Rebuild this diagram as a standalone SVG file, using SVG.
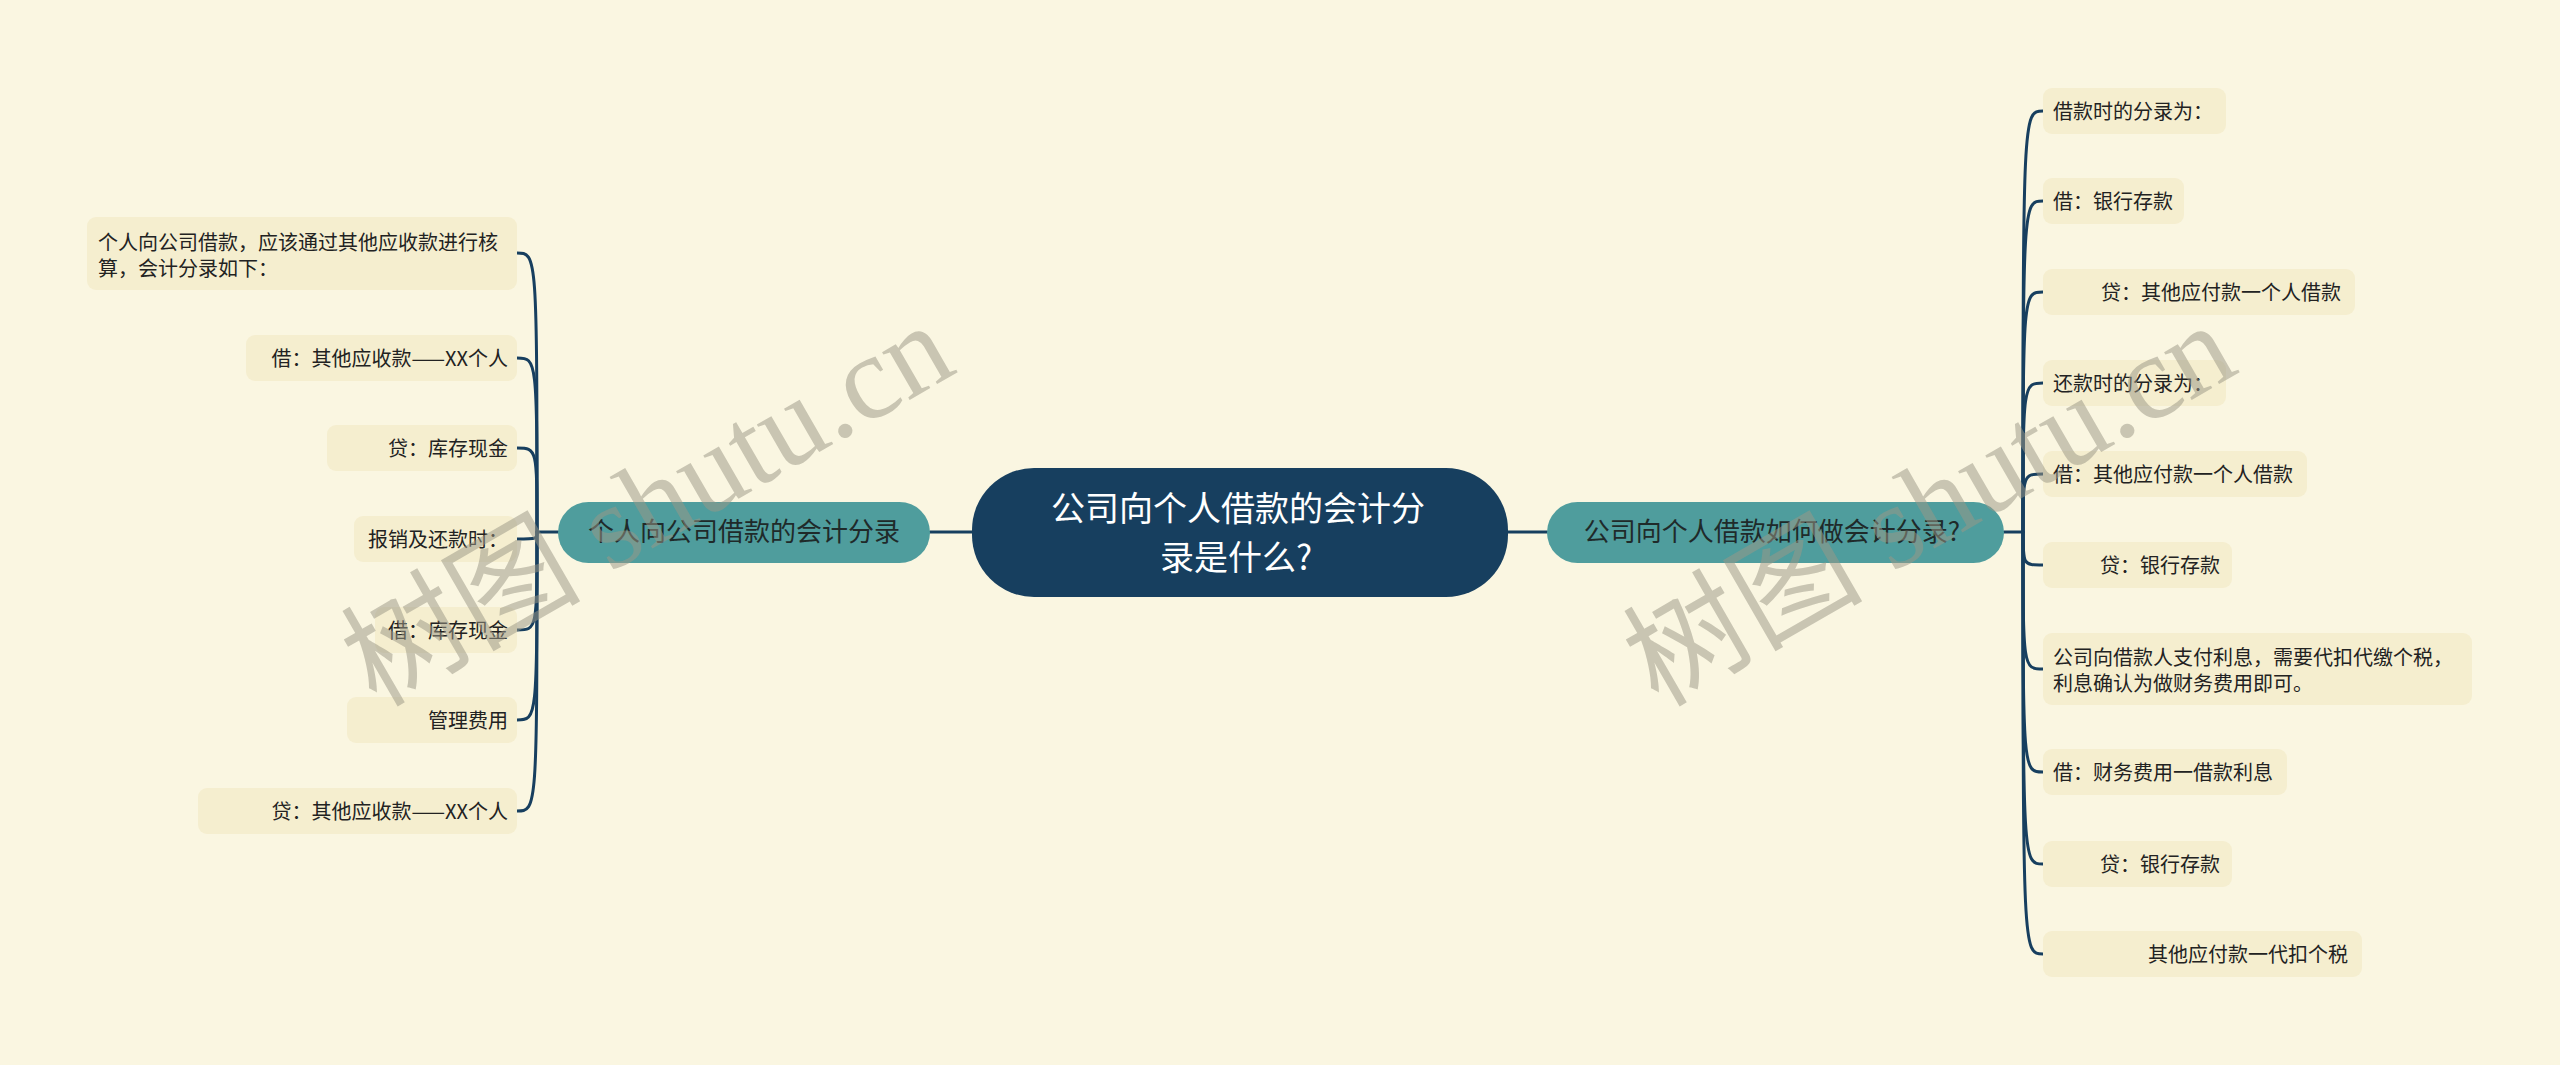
<svg xmlns="http://www.w3.org/2000/svg" width="2560" height="1065" viewBox="0 0 2560 1065">
<style>
.bg{fill:#faf6e1}
.leaf{fill:#f5eecf}
.lt{font-family:"Noto Sans CJK SC","Noto Sans",sans-serif;font-size:20px;fill:#222}
.l1{fill:#4f9d9d}
.l1t{font-family:"Noto Sans CJK SC","Noto Sans",sans-serif;font-size:26px;fill:#1f2a2a;text-anchor:middle}
.root{fill:#173f5f}
.rt{font-family:"Noto Sans CJK SC","Noto Sans",sans-serif;font-size:34px;fill:#ffffff;text-anchor:middle}
.end{text-anchor:end}
.con{fill:none;stroke:#173f5f;stroke-width:3;stroke-linecap:round}
.wm{font-family:"Liberation Serif","Noto Sans CJK SC",serif;font-size:120px;fill:#9c9886;fill-opacity:0.52}
</style>
<rect class="bg" x="0" y="0" width="2560" height="1065"/>

<g id="connectors">
<path class="con" d="M930,532 L972,532"/>
<path class="con" d="M1508,532 L1547,532"/>
<path class="con" d="M537,532 L558,532"/>
<path class="con" d="M2004,532 L2023,532"/>
<path class="con" d="M537,532 C537,253 537,253 517,253"/>
<path class="con" d="M537,532 C537,358 537,358 517,358"/>
<path class="con" d="M537,532 C537,448 537,448 517,448"/>
<path class="con" d="M537,532 C537,539 537,539 517,539"/>
<path class="con" d="M537,532 C537,630 537,630 517,630"/>
<path class="con" d="M537,532 C537,720 537,720 517,720"/>
<path class="con" d="M537,532 C537,811 537,811 517,811"/>
<path class="con" d="M2023,532 C2023,111 2023,111 2043,111"/>
<path class="con" d="M2023,532 C2023,201 2023,201 2043,201"/>
<path class="con" d="M2023,532 C2023,292 2023,292 2043,292"/>
<path class="con" d="M2023,532 C2023,383 2023,383 2043,383"/>
<path class="con" d="M2023,532 C2023,474 2023,474 2043,474"/>
<path class="con" d="M2023,532 C2023,565 2023,565 2043,565"/>
<path class="con" d="M2023,532 C2023,669 2023,669 2043,669"/>
<path class="con" d="M2023,532 C2023,772 2023,772 2043,772"/>
<path class="con" d="M2023,532 C2023,864 2023,864 2043,864"/>
<path class="con" d="M2023,532 C2023,954 2023,954 2043,954"/>
</g>

<g id="root">
<rect class="root" x="972" y="468" width="536" height="129" rx="62"/>
<text class="rt" x="1238" y="521">公司向个人借款的会计分</text>
<text class="rt" x="1236" y="570">录是什么?</text>
</g>

<g id="left-main">
<rect class="l1" x="558" y="502" width="372" height="61" rx="30.5"/>
<text class="l1t" x="744" y="541">个人向公司借款的会计分录</text>
</g>

<g id="right-main">
<rect class="l1" x="1547" y="502" width="457" height="61" rx="30.5"/>
<text class="l1t" x="1772" y="541">公司向个人借款如何做会计分录?</text>
</g>

<g id="left-1">
<rect class="leaf" x="87" y="217" width="430" height="73" rx="9"/>
<text class="lt" x="98" y="249.5">个人向公司借款，应该通过其他应收款进行核</text>
<text class="lt" x="98" y="275.5">算，会计分录如下：</text>
</g>
<g id="left-2">
<rect class="leaf" x="246" y="335" width="271" height="46" rx="9"/>
<text class="lt end" x="508" y="365.5">借：其他应收款——XX个人</text>
</g>
<g id="left-3">
<rect class="leaf" x="327" y="425" width="190" height="46" rx="9"/>
<text class="lt end" x="508" y="455.5">贷：库存现金</text>
</g>
<g id="left-4">
<rect class="leaf" x="354" y="516" width="163" height="46" rx="9"/>
<text class="lt end" x="508" y="546.5">报销及还款时：</text>
</g>
<g id="left-5">
<rect class="leaf" x="375" y="607" width="142" height="46" rx="9"/>
<text class="lt end" x="508" y="637.5">借：库存现金</text>
</g>
<g id="left-6">
<rect class="leaf" x="347" y="697" width="170" height="46" rx="9"/>
<text class="lt end" x="508" y="727.5">管理费用</text>
</g>
<g id="left-7">
<rect class="leaf" x="198" y="788" width="319" height="46" rx="9"/>
<text class="lt end" x="508" y="818.5">贷：其他应收款——XX个人</text>
</g>

<g id="right-1">
<rect class="leaf" x="2043" y="88" width="183" height="46" rx="9"/>
<text class="lt" x="2053" y="118.5">借款时的分录为：</text>
</g>
<g id="right-2">
<rect class="leaf" x="2043" y="178" width="141" height="46" rx="9"/>
<text class="lt" x="2053" y="208.5">借：银行存款</text>
</g>
<g id="right-3">
<rect class="leaf" x="2043" y="269" width="312" height="46" rx="9"/>
<text class="lt" x="2101" y="299.5">贷：其他应付款一个人借款</text>
</g>
<g id="right-4">
<rect class="leaf" x="2043" y="360" width="183" height="46" rx="9"/>
<text class="lt" x="2053" y="390.5">还款时的分录为：</text>
</g>
<g id="right-5">
<rect class="leaf" x="2043" y="451" width="264" height="46" rx="9"/>
<text class="lt" x="2053" y="481.5">借：其他应付款一个人借款</text>
</g>
<g id="right-6">
<rect class="leaf" x="2043" y="542" width="189" height="46" rx="9"/>
<text class="lt" x="2100" y="572.5">贷：银行存款</text>
</g>
<g id="right-7">
<rect class="leaf" x="2043" y="633" width="429" height="72" rx="9"/>
<text class="lt" x="2053" y="664.5">公司向借款人支付利息，需要代扣代缴个税，</text>
<text class="lt" x="2053" y="690.5">利息确认为做财务费用即可。</text>
</g>
<g id="right-8">
<rect class="leaf" x="2043" y="749" width="244" height="46" rx="9"/>
<text class="lt" x="2053" y="779.5">借：财务费用一借款利息</text>
</g>
<g id="right-9">
<rect class="leaf" x="2043" y="841" width="189" height="46" rx="9"/>
<text class="lt" x="2100" y="871.5">贷：银行存款</text>
</g>
<g id="right-10">
<rect class="leaf" x="2043" y="931" width="319" height="46" rx="9"/>
<text class="lt" x="2148" y="961.5">其他应付款一代扣个税</text>
</g>

<g id="watermark">
<text class="wm" x="376" y="708" transform="rotate(-30 376 708)">树图 shutu.cn</text>
<text class="wm" x="1658" y="708" transform="rotate(-30 1658 708)">树图 shutu.cn</text>
</g>
</svg>
